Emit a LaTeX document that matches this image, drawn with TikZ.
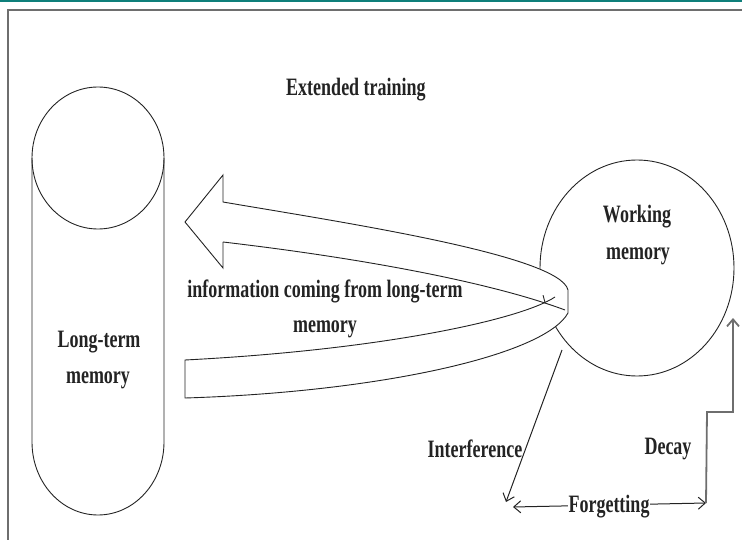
\documentclass[tikz,border=0pt]{standalone}
\usepackage{fontspec}
\setmainfont{Liberation Serif}[FakeStretch=0.72]
\usetikzlibrary{arrows.meta,shapes.geometric}
\definecolor{barteal}{RGB}{14,127,122}
\definecolor{framegray}{RGB}{110,110,110}
\definecolor{ink}{RGB}{35,35,35}
\begin{document}
\begin{tikzpicture}[x=1pt,y=-1pt,line width=0.9pt,
  lbl/.style={inner sep=1pt,anchor=base,font=\fontsize{25}{30}\selectfont\bfseries,text=ink},
  conn/.style={draw=ink,line width=1pt,-{Straight Barb[length=7pt,width=12pt]}},
  shp/.style={draw=ink,line width=0.9pt}]
\useasboundingbox (0,0) rectangle (742,540);
% frame
\fill[barteal] (0,0) rectangle (742,2.5);
\draw[framegray,line width=2pt] (8,540) -- (8,10) -- (742,10);
% long-term memory cylinder
\draw[shp] (32,158) -- (32,442) arc[start angle=180,end angle=0,x radius=66,y radius=73] -- (164,158);
\node[shp,ellipse,minimum width=132pt,minimum height=142pt,inner sep=0pt] (ltmtop) at (98,158) {};
\node[lbl] (ltma) at (99,347) {Long-term};
\node[lbl] (ltmb) at (98,383) {memory};
% working memory
\node[shp,ellipse,minimum width=194pt,minimum height=216pt,inner sep=0pt] (wm) at (637,268) {};
\node[lbl] (wma) at (637,223) {Working};
\node[lbl] (wmb) at (638,260) {memory};
% extended training
\node[lbl] (ext) at (356,96) {Extended training};
% big U-turn arrow
\filldraw[shp,fill=white] (223,242) -- (223,268) -- (185,222) -- (223,175) -- (223,202)
  .. controls (340,222) and (560,255) .. (568,290) -- (568,313)
  .. controls (545,355) and (380,392) .. (185,398) -- (185,360)
  .. controls (380,350) and (520,320) .. (555,297);
\draw[shp] (223,242) .. controls (360,258) and (490,282) .. (565,310);
\node[lbl] (infoa) at (325,298) {information coming from long-term};
\node[lbl] (infob) at (325,332) {memory};
% forgetting paths
\coordinate (ia) at (562,350);
\coordinate (ib) at (506,502);
\coordinate (fa) at (513,507);
\coordinate (fb) at (706,503);
\coordinate (da) at (707,412);
\coordinate (db) at (733,412);
\coordinate (dc) at (733,318);
\draw[conn] (ia) -- (ib);
\draw[conn,{Straight Barb[length=7pt,width=12pt]}-{Straight Barb[length=7pt,width=12pt]}] (fa) -- (fb);
\draw[conn,draw=framegray,line width=1.8pt] (fb) -- (da) -- (db) -- (dc);
\node[lbl] (intf) at (475,457) {Interference};
\node[lbl] (decay) at (668,454) {Decay};
\node[lbl,fill=white] (forg) at (609,512) {Forgetting};
\end{tikzpicture}
\end{document}
